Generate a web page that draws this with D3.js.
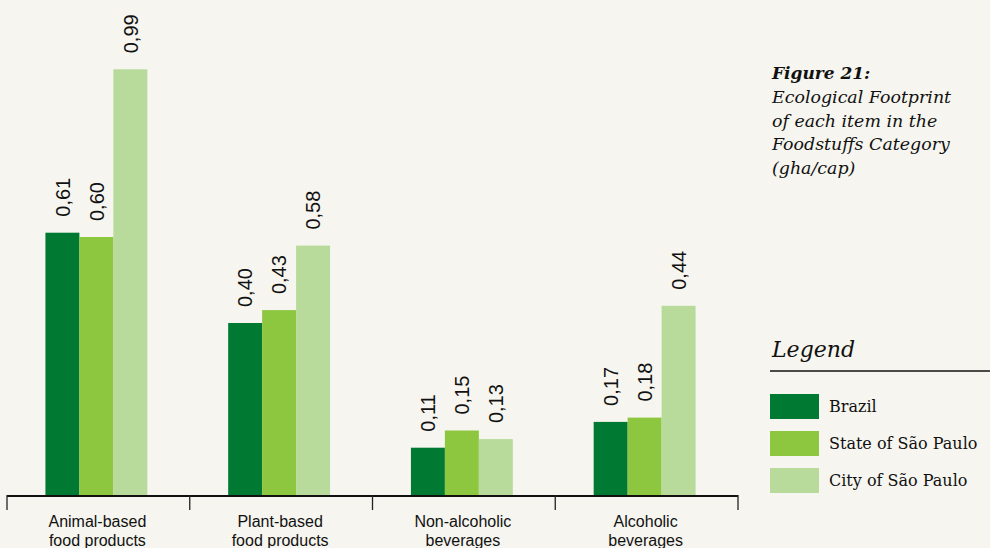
<!DOCTYPE html>
<html>
<head>
<meta charset="utf-8">
<script src="https://cdn.jsdelivr.net/npm/d3@7"></script>
<style>
  html, body { margin: 0; padding: 0; background: #f6f5ef; }
  svg { display: block; }
</style>
</head>
<body>
<svg id="chart" width="990" height="548"></svg>
<script>
// ---- data ----
const categories = ["Animal-based|food products", "Plant-based|food products", "Non-alcoholic|beverages", "Alcoholic|beverages"];
const seriesNames = ["Brazil", "State of São Paulo", "City of São Paulo"];
const brazil = [0.61, 0.40, 0.11, 0.17];
const stateSP = [0.60, 0.43, 0.15, 0.18];
const citySP = [0.99, 0.58, 0.13, 0.44];
const valueLabels = [
  ["0,61", "0,40", "0,11", "0,17"],
  ["0,60", "0,43", "0,15", "0,18"],
  ["0,99", "0,58", "0,13", "0,44"]
];
const titleBold = "Figure 21:";
const titleLines = ["Ecological Footprint", "of each item in the", "Foodstuffs Category", "(gha/cap)"];
const legendTitle = "Legend";

const seriesValues = [brazil, stateSP, citySP];
const colors = ["#007a33", "#8dc63f", "#b8db9b"];

const svg = d3.select("#chart");
const sans = "'Liberation Sans', Arial, sans-serif";
const serif = "'DejaVu Serif', Georgia, serif";

const baseY = 495;
const x0 = d3.scaleBand().domain(categories).range([7, 738]).paddingInner(0).paddingOuter(0);
const x1 = d3.scaleBand().domain(seriesNames).range([-2, x0.bandwidth() - 2]).paddingInner(0).paddingOuter(1.19);
const y = d3.scaleLinear().domain([0, 1]).range([baseY, baseY - 430]);
const color = d3.scaleOrdinal().domain(seriesNames).range(colors);

const rows = [];
categories.forEach((c, i) => {
  seriesNames.forEach((s, j) => {
    rows.push({ cat: c, series: s, value: seriesValues[j][i], label: valueLabels[j][i] });
  });
});

const g = svg.append("g");

g.selectAll("rect.bar").data(rows).join("rect")
  .attr("class", "bar")
  .attr("x", d => x0(d.cat) + x1(d.series))
  .attr("width", x1.bandwidth())
  .attr("y", d => y(d.value))
  .attr("height", d => baseY - y(d.value))
  .attr("fill", d => color(d.series));

g.selectAll("text.val").data(rows).join("text")
  .attr("class", "val")
  .attr("transform", d => `translate(${x0(d.cat) + x1(d.series) + x1.bandwidth() / 2},${y(d.value) - 16}) rotate(-90)`)
  .attr("dy", "0.36em")
  .attr("text-anchor", "start")
  .attr("font-family", sans)
  .attr("font-size", 20)
  .attr("fill", "#111")
  .text(d => d.label);

// axis
const axisG = svg.append("g");
axisG.append("line")
  .attr("x1", x0.range()[0]).attr("x2", x0.range()[1])
  .attr("y1", baseY + 1).attr("y2", baseY + 1)
  .attr("stroke", "#111").attr("stroke-width", 2);
const tickXs = categories.map(c => x0(c)).concat([x0(categories[categories.length - 1]) + x0.bandwidth()]);
axisG.selectAll("line.tick").data(tickXs).join("line")
  .attr("class", "tick")
  .attr("x1", d => d).attr("x2", d => d)
  .attr("y1", baseY).attr("y2", baseY + 15)
  .attr("stroke", "#222").attr("stroke-width", 1.3);
const catText = axisG.selectAll("text.cat").data(categories).join("text")
  .attr("class", "cat")
  .attr("x", d => x0(d) + x0.bandwidth() / 2 - 1)
  .attr("y", 527)
  .attr("text-anchor", "middle")
  .attr("font-family", sans)
  .attr("font-size", 16)
  .attr("fill", "#111");
catText.each(function (d) {
  const parts = d.split("|");
  const t = d3.select(this);
  const cx = t.attr("x");
  parts.forEach((p, i) => {
    t.append("tspan").attr("x", cx).attr("dy", i === 0 ? 0 : 18.5).text(p);
  });
});

// title
const tg = svg.append("g").attr("font-family", serif).attr("font-style", "italic").attr("fill", "#111");
tg.append("text").attr("x", 772).attr("y", 79).attr("font-weight", "bold").attr("font-size", 17).text(titleBold);
tg.selectAll("text.tl").data(titleLines).join("text")
  .attr("class", "tl")
  .attr("x", 772)
  .attr("y", (d, i) => 103 + i * 23.5)
  .attr("font-size", 17.4)
  .text(d => d);

// legend
const lg = svg.append("g");
lg.append("text").attr("x", 772).attr("y", 357)
  .attr("font-family", serif).attr("font-style", "italic").attr("font-size", 22).attr("fill", "#111")
  .text(legendTitle);
lg.append("line").attr("x1", 770).attr("x2", 990).attr("y1", 371).attr("y2", 371)
  .attr("stroke", "#111").attr("stroke-width", 1.5);
const items = lg.selectAll("g.item").data(seriesNames).join("g")
  .attr("class", "item")
  .attr("transform", (d, i) => `translate(770,${394 + i * 37})`);
items.append("rect").attr("width", 49).attr("height", 25).attr("fill", d => color(d));
items.append("text").attr("x", 59).attr("y", 18)
  .attr("font-family", serif).attr("font-size", 16).attr("fill", "#111")
  .text(d => d);
</script>
</body>
</html>
